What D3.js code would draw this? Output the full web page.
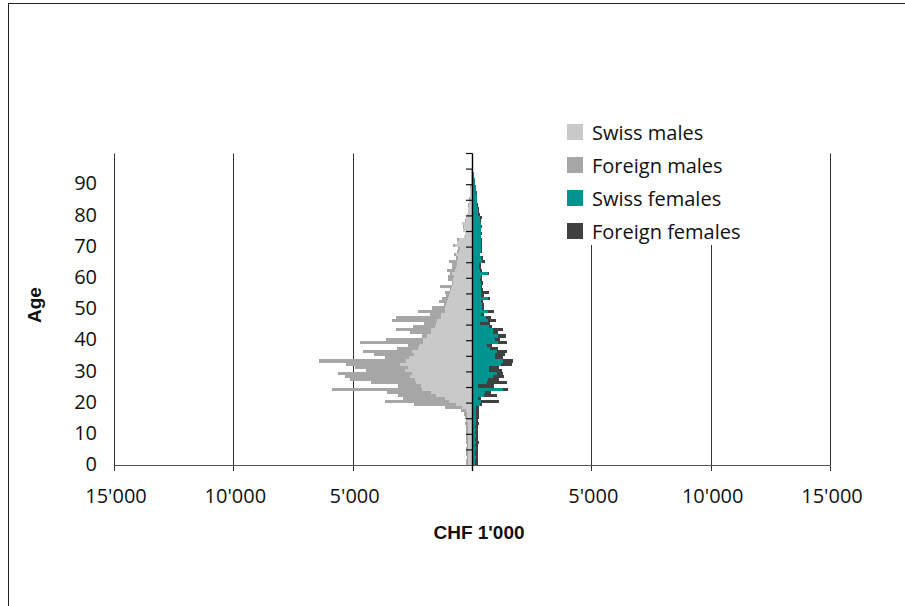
<!DOCTYPE html>
<html>
<head>
<meta charset="utf-8">
<script src="https://cdn.jsdelivr.net/npm/d3@7"></script>
<style>
body { margin: 0; background: #fff; }
svg text { font-family: "Open Sans", sans-serif; fill: #111; }
</style>
</head>
<body>
<svg width="905" height="606"></svg>
<script>
// age categories 0..99
var ages = d3.range(0, 100);

// CHF 1'000
var swissMales = [150,170,150,170,150,150,170,170,150,170,
  170,170,150,170,190,190,210,250,420,650,
  950,1150,1500,1700,2100,2150,2350,2400,2600,2500,
  2800,2700,3000,2750,2650,2450,2500,2250,2200,2050,
  2050,1900,1700,1700,1550,1500,1450,1300,1280,1150,
  1150,1090,1050,1010,960,920,880,840,800,780,
  750,840,710,670,630,630,590,670,540,500,
  710,630,540,340,290,380,340,420,250,250,
  210,170,150,130,130,100,100,80,80,60,
  60,50,40,30,25,20,15,10,5,0];

var foreignMales = [100,100,80,80,120,100,60,100,100,100,
  80,100,100,120,80,100,130,210,710,1780,
  2700,1740,1600,1860,3770,950,1880,2710,2720,3110,
  1640,2200,2280,3660,1000,1660,2070,890,480,2640,
  1550,200,900,1480,920,510,1900,1880,480,1110,
  530,80,330,250,130,210,40,500,40,230,
  260,80,340,170,210,330,80,80,90,90,
  90,0,90,0,0,0,40,0,60,0,
  0,0,20,20,0,30,0,0,0,20,
  0,10,0,0,0,0,0,0,0,0];

var swissFemales = [140,140,150,140,140,150,140,150,140,150,
  140,150,140,150,150,155,170,170,170,340,
  380,240,520,560,1290,250,620,660,870,1030,
  700,720,1220,1290,980,980,1050,750,630,1080,
  980,1080,870,890,720,340,660,590,380,660,
  420,420,380,660,380,380,380,360,380,340,
  360,660,340,310,310,420,380,340,380,380,
  380,380,360,360,380,360,380,360,340,340,
  270,260,240,230,210,200,190,180,170,150,
  130,110,100,80,60,50,30,20,10,0];

var foreignFemales = [110,130,100,130,110,120,110,130,110,120,
  130,100,130,130,120,120,110,110,140,80,
  740,140,520,240,210,680,840,490,460,250,
  560,420,450,420,310,420,410,340,210,380,
  200,350,210,390,110,420,350,210,140,280,
  100,100,70,100,130,320,80,60,70,60,
  60,70,80,60,80,130,80,0,40,40,
  40,40,40,20,40,20,40,20,40,70,
  60,50,40,40,20,30,20,20,10,10,
  10,10,0,0,0,0,0,0,0,0];

var ageTicks = [0,10,20,30,40,50,60,70,80,90];
var xTicks = [-15000,-10000,-5000,0,5000,10000,15000];
var series = ["Swiss males","Foreign males","Swiss females","Foreign females"];
var colors = ["#c9c9c9","#a6a6a6","#009490","#404040"];

var svg = d3.select("svg"),
    width = +svg.attr("width"),
    height = +svg.attr("height");

var x = d3.scaleLinear().domain([-15000, 15000]).range([114, 830]);
var y = d3.scaleBand().domain(ages).range([465.5, 153.5]).padding(0);
var bw = y.bandwidth();

// frame
svg.append("rect")
    .attr("x", 8.5).attr("y", 3.5)
    .attr("width", 1000).attr("height", 1000)
    .attr("fill", "none").attr("stroke", "#222");

// gridlines
svg.append("g").selectAll("line")
    .data(xTicks.filter(function(d) { return d != 0; }))
    .enter().append("line")
      .attr("x1", function(d) { return Math.round(x(d)) + 0.5; })
      .attr("x2", function(d) { return Math.round(x(d)) + 0.5; })
      .attr("y1", 153.5).attr("y2", 465.5)
      .attr("stroke", "#333");

var rows = ages.map(function(a, i) {
  return {age: a, sm: swissMales[i], fm: foreignMales[i], sf: swissFemales[i], ff: foreignFemales[i]};
});

var bars = svg.append("g").attr("shape-rendering", "crispEdges");

function addBars(color, x0, x1) {
  bars.append("g").selectAll("rect")
    .data(rows)
    .enter().append("rect")
      .attr("y", function(d) { return y(d.age); })
      .attr("height", bw)
      .attr("x", function(d) { return Math.min(x(x0(d)), x(x1(d))); })
      .attr("width", function(d) { return Math.abs(x(x1(d)) - x(x0(d))); })
      .attr("fill", color);
}
addBars(colors[0], function(d) { return 0; }, function(d) { return -d.sm; });
addBars(colors[1], function(d) { return -d.sm; }, function(d) { return -d.sm - d.fm; });
addBars(colors[2], function(d) { return 0; }, function(d) { return d.sf; });
addBars(colors[3], function(d) { return d.sf; }, function(d) { return d.sf + d.ff; });

// legend
svg.append("rect")
    .attr("x", 553).attr("y", 110).attr("width", 212).attr("height", 135)
    .attr("fill", "#fff");

var legend = svg.append("g").selectAll("g")
    .data(series)
    .enter().append("g")
      .attr("transform", function(d, i) { return "translate(567," + (124 + i * 33) + ")"; });
legend.append("rect")
    .attr("width", 16).attr("height", 16)
    .attr("fill", function(d, i) { return colors[i]; });
legend.append("text")
    .attr("x", 25).attr("y", 16)
    .style("font-size", "20px")
    .text(function(d) { return d; });

// bottom axis
var fmt = function(d) { return d == 0 ? "" : d3.format(",")(Math.abs(d)).replace(/,/g, "'"); };
svg.append("line")
    .attr("x1", 114).attr("x2", 830).attr("y1", 465.5).attr("y2", 465.5)
    .attr("stroke", "#555");
svg.append("g").selectAll("line")
    .data(xTicks)
    .enter().append("line")
      .attr("x1", function(d) { return Math.round(x(d)) + 0.5; })
      .attr("x2", function(d) { return Math.round(x(d)) + 0.5; })
      .attr("y1", 465.5).attr("y2", 471)
      .attr("stroke", "#333");
svg.append("g").selectAll("text")
    .data(xTicks)
    .enter().append("text")
      .attr("x", function(d) { return x(d) + 2; })
      .attr("y", 503)
      .attr("text-anchor", "middle")
      .style("font-size", "20px")
      .text(fmt);

// centre axis with ticks every 5 years
svg.append("line")
    .attr("x1", 472.5).attr("x2", 472.5).attr("y1", 153.5).attr("y2", 471)
    .attr("stroke", "#000").attr("stroke-width", 1.4);
svg.append("g").selectAll("line")
    .data(d3.range(5, 101, 5))
    .enter().append("line")
      .attr("x1", 466).attr("x2", 472.5)
      .attr("y1", function(k) { return 465.5 - k * bw; })
      .attr("y2", function(k) { return 465.5 - k * bw; })
      .attr("stroke", "#111").attr("stroke-width", 1.2);

// age labels
svg.append("g").selectAll("text")
    .data(ageTicks)
    .enter().append("text")
      .attr("x", 97)
      .attr("y", function(d) { return y(d) + bw / 2; })
      .attr("dy", "0.36em")
      .attr("text-anchor", "end")
      .style("font-size", "20px")
      .text(function(d) { return d; });

// axis titles
svg.append("text")
    .attr("transform", "translate(41,305) rotate(-90)")
    .attr("text-anchor", "middle")
    .style("font-family", "'Liberation Sans', Arial, sans-serif")
    .style("font-weight", "bold")
    .style("font-size", "19px")
    .text("Age");
svg.append("text")
    .attr("x", 479).attr("y", 539)
    .attr("text-anchor", "middle")
    .style("font-family", "'Liberation Sans', Arial, sans-serif")
    .style("font-weight", "bold")
    .style("font-size", "19px")
    .text("CHF 1'000");
</script>
</body>
</html>
